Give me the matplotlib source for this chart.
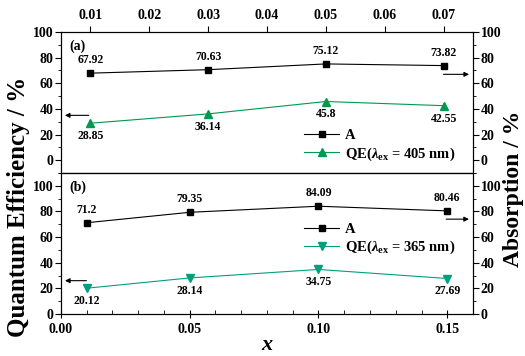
import numpy as np
import matplotlib.pyplot as plt
from matplotlib.ticker import MultipleLocator

plt.rcParams['font.family'] = ['Liberation Serif', 'DejaVu Serif']
plt.rcParams['font.weight'] = 'bold'
plt.rcParams['mathtext.fontset'] = 'custom'
plt.rcParams['mathtext.it'] = 'Liberation Serif:italic:bold'
plt.rcParams['mathtext.rm'] = 'Liberation Serif:bold'

# panel (a)
x_a = [0.01, 0.03, 0.05, 0.07]
abs_a = [67.92, 70.63, 75.12, 73.82]
qe_a = [28.85, 36.14, 45.8, 42.55]
# panel (b)
x_b = [0.01, 0.05, 0.10, 0.15]
abs_b = [71.2, 79.35, 84.09, 80.46]
qe_b = [20.12, 28.14, 34.75, 27.69]

green_a = '#00994f'
green_b = '#00a07e'

fig = plt.figure(figsize=(5.25, 3.56), dpi=100)
axa = fig.add_axes([0.116, 0.514, 0.785, 0.396])
axb = fig.add_axes([0.116, 0.118, 0.785, 0.396])

# top panel
axa.plot(x_a, abs_a, 'k-', marker='s', ms=5, lw=0.8, label='A')
axa.plot(x_a, qe_a, '-', color=green_a, marker='^', ms=6, lw=0.8,
         label=r'QE($\lambda_{\rm ex}$ = 405 nm)')
axa.set_xlim(0.005, 0.075)
axa.set_ylim(-10, 100)
axa.xaxis.set_ticks_position('top')
axa.xaxis.set_major_locator(MultipleLocator(0.01))
axa.xaxis.set_major_formatter(plt.FormatStrFormatter('%.2f'))
axa.tick_params(axis='x', which='both', direction='out', length=4)
axa.set_yticks([0, 20, 40, 60, 80, 100])
axa.yaxis.set_minor_locator(MultipleLocator(10))
for xx, v in zip(x_a, abs_a):
    axa.annotate('%.2f' % v, (xx, v), xytext=(0, 5), textcoords='offset points',
                 ha='center', va='bottom', fontsize=8.5, fontweight='bold')
for xx, v in zip(x_a, qe_a):
    axa.annotate(('%g' % v), (xx, v), xytext=(0, -5), textcoords='offset points',
                 ha='center', va='top', fontsize=8.5, fontweight='bold')
axa.text(0.02, 0.95, '(a)', transform=axa.transAxes, fontsize=10,
         fontweight='bold', va='top')
axa.annotate('', xy=(0.0052, 35), xytext=(0.0102, 35),
             arrowprops=dict(arrowstyle='-|>', color='k', lw=0.8, mutation_scale=7))
axa.annotate('', xy=(0.0748, 67), xytext=(0.0695, 67),
             arrowprops=dict(arrowstyle='-|>', color='k', lw=0.8, mutation_scale=7))
axa.legend(loc='lower right', bbox_to_anchor=(0.985, -0.01), frameon=False,
           fontsize=10.5, handlelength=2.4, borderpad=0.3, labelspacing=0.2,
           handletextpad=0.4)
tra = axa.twinx()
tra.set_ylim(-10, 100)
tra.set_yticks([0, 20, 40, 60, 80, 100])
tra.yaxis.set_minor_locator(MultipleLocator(10))

# bottom panel
axb.plot(x_b, abs_b, 'k-', marker='s', ms=5, lw=0.8, label='A')
axb.plot(x_b, qe_b, '-', color=green_b, marker='v', ms=6, lw=0.8,
         label=r'QE($\lambda_{\rm ex}$ = 365 nm)')
axb.set_xlim(0.0, 0.16)
axb.set_ylim(0, 110)
axb.xaxis.set_major_locator(MultipleLocator(0.05))
axb.xaxis.set_minor_locator(MultipleLocator(0.01))
axb.xaxis.set_major_formatter(plt.FormatStrFormatter('%.2f'))
axb.tick_params(axis='x', which='major', direction='inout', length=6)
axb.tick_params(axis='x', which='minor', direction='in', length=3)
axb.set_yticks([0, 20, 40, 60, 80, 100])
axb.yaxis.set_minor_locator(MultipleLocator(10))
for xx, v in zip(x_b, abs_b):
    axb.annotate('%g' % v, (xx, v), xytext=(0, 5), textcoords='offset points',
                 ha='center', va='bottom', fontsize=8.5, fontweight='bold')
for xx, v in zip(x_b, qe_b):
    axb.annotate('%g' % v, (xx, v), xytext=(0, -5), textcoords='offset points',
                 ha='center', va='top', fontsize=8.5, fontweight='bold')
axb.text(0.02, 0.95, '(b)', transform=axb.transAxes, fontsize=10,
         fontweight='bold', va='top')
axb.annotate('', xy=(0.0005, 26), xytext=(0.011, 26),
             arrowprops=dict(arrowstyle='-|>', color='k', lw=0.8, mutation_scale=7))
axb.annotate('', xy=(0.1595, 74), xytext=(0.1485, 74),
             arrowprops=dict(arrowstyle='-|>', color='k', lw=0.8, mutation_scale=7))
axb.legend(loc='upper right', bbox_to_anchor=(0.985, 0.73), frameon=False,
           fontsize=10.5, handlelength=2.4, borderpad=0.3, labelspacing=0.2,
           handletextpad=0.4)
axb.set_xlabel('$x$', fontsize=16, labelpad=0)
trb = axb.twinx()
trb.set_ylim(0, 110)
trb.set_yticks([0, 20, 40, 60, 80, 100])
trb.yaxis.set_minor_locator(MultipleLocator(10))

for ax in (axa, axb, tra, trb):
    ax.tick_params(axis='y', which='major', direction='out', length=4, labelsize=10, pad=1.5)
    ax.tick_params(axis='y', which='minor', direction='out', length=2)
    ax.tick_params(axis='x', labelsize=10)
    for lab in ax.get_xticklabels() + ax.get_yticklabels():
        lab.set_fontweight('bold')

fig.text(0.036, 0.42, 'Quantum Efficiency / %', rotation=90, ha='center',
         va='center', fontsize=18, fontweight='bold')
fig.text(0.978, 0.47, 'Absorption / %', rotation=90, ha='center',
         va='center', fontsize=17, fontweight='bold')

plt.savefig('out.png', dpi=100)
